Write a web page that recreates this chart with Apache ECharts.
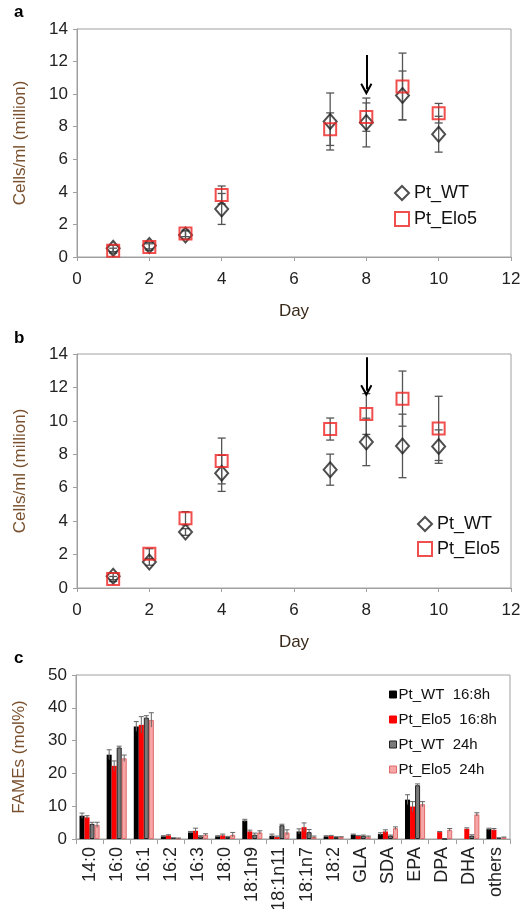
<!DOCTYPE html>
<html>
<head>
<meta charset="utf-8">
<script src="https://cdn.jsdelivr.net/npm/echarts@6/dist/echarts.min.js"></script>
<style>
html, body { margin: 0; padding: 0; background: #fff; }
#main { width: 522px; height: 909px; }
</style>
</head>
<body>
<div id="main"></div>
<script>
// growth curves (panels a and b)
var days = [1, 2, 3, 4, 7, 8, 9, 10];
var aWT = [0.53, 0.70, 1.35, 2.95, 8.32, 8.26, 9.92, 7.54];
var aWTerr = [0.2, 0.2, 0.25, 0.95, 1.75, 1.5, 1.5, 1.1];
var aElo = [0.39, 0.61, 1.45, 3.81, 7.85, 8.59, 10.47, 8.83];
var aEloErr = [0.15, 0.2, 0.2, 0.55, 1.0, 0.87, 2.05, 0.6];
var bWT = [0.70, 1.56, 3.35, 6.86, 7.08, 8.74, 8.50, 8.46];
var bWTerr = [0.2, 0.2, 0.2, 1.08, 0.93, 1.42, 1.9, 1.0];
var bElo = [0.54, 2.05, 4.17, 7.60, 9.51, 10.41, 11.33, 9.55];
var bEloErr = [0.15, 0.3, 0.4, 1.37, 0.66, 1.22, 1.65, 1.92];

// fatty acid profile (panel c)
var fames = ['14:0', '16:0', '16:1', '16:2', '16:3', '18:0', '18:1n9', '18:1n11', '18:1n7', '18:2', 'GLA', 'SDA', 'EPA', 'DPA', 'DHA', 'others'];
var wt16 = [7.1, 25.7, 34.3, 0.8, 2.0, 0.8, 5.6, 1.0, 2.3, 0.8, 1.3, 1.5, 12.0, 0, 0, 3.0];
var wt16err = [0.8, 1.5, 1.5, 0.2, 0.3, 0.2, 0.4, 0.5, 0.8, 0.2, 0.2, 0.4, 1.5, 0, 0, 0.3];
var elo16 = [6.6, 22.3, 34.8, 1.1, 2.5, 1.1, 2.3, 0.6, 3.6, 0.9, 0.9, 2.3, 9.9, 2.1, 3.1, 2.8];
var elo16err = [0.5, 1.5, 2.5, 0.2, 0.8, 0.4, 0.4, 0.3, 1.3, 0.2, 0.2, 0.5, 1.5, 0.2, 0.3, 0.4];
var wt24 = [4.6, 27.9, 37.0, 0.3, 0.8, 0.6, 1.3, 4.2, 2.1, 0.6, 1.0, 1.0, 16.4, 0, 1.0, 0.3];
var wt24err = [0.5, 0.4, 0.6, 0.1, 0.2, 0.2, 0.5, 0.3, 0.8, 0.1, 0.2, 0.2, 0.4, 0, 0.3, 0.1];
var elo24 = [4.3, 24.6, 36.3, 0.2, 1.3, 1.3, 2.0, 2.0, 0.6, 0.6, 0.7, 3.3, 10.6, 2.8, 7.5, 0.5];
var elo24err = [0.8, 1.0, 2.2, 0.1, 0.3, 0.7, 0.5, 0.8, 0.3, 0.1, 0.2, 0.4, 0.8, 0.4, 0.5, 0.1];

var FONT = 'Liberation Sans';
var NAMECOL = '#7a5230';
var AXCOL = '#a0a0a0';

function pts(xs, ys) {
    return xs.map(function (x, i) { return [x, ys[i]]; });
}
function errs(xs, ys, es) {
    return xs.map(function (x, i) { return [x, ys[i] - es[i], ys[i] + es[i]]; });
}

function renderErr(params, api) {
    var x = api.value(0);
    var lo = api.coord([x, api.value(1)]);
    var hi = api.coord([x, api.value(2)]);
    var w = 4;
    var st = { stroke: '#555', lineWidth: 1.3 };
    return {
        type: 'group',
        children: [
            { type: 'line', shape: { x1: lo[0], y1: lo[1], x2: hi[0], y2: hi[1] }, style: st },
            { type: 'line', shape: { x1: lo[0] - w, y1: lo[1], x2: lo[0] + w, y2: lo[1] }, style: st },
            { type: 'line', shape: { x1: hi[0] - w, y1: hi[1], x2: hi[0] + w, y2: hi[1] }, style: st }
        ]
    };
}

// error bars for the grouped bars, idx = position of the bar in its group
function barErr(idx) {
    return function (params, api) {
        var c = api.value(0);
        var v = api.value(1), e = api.value(2);
        if (e <= 0) return null;
        var band = api.size([1, 0])[0];
        var bw = band * 0.74 / 4;
        var base = api.coord([c, v]);
        var x = base[0] + (idx - 1.5) * bw;
        var top = api.coord([c, v + e])[1];
        var bot = api.coord([c, v - e])[1];
        var st = { stroke: '#666', lineWidth: 1 };
        return {
            type: 'group',
            children: [
                { type: 'line', shape: { x1: x, y1: bot, x2: x, y2: top }, style: st },
                { type: 'line', shape: { x1: x - 2.5, y1: top, x2: x + 2.5, y2: top }, style: st }
            ]
        };
    };
}
function barErrData(vals, es) {
    return vals.map(function (v, i) { return [i, v, es[i]]; });
}

var arrowSym = 'path://M0,10 L5,0 L10,10 L8.6,10.8 L5,4 L1.4,10.8 Z';

function dayGrid(top, height) {
    return { left: 77, right: 11, top: top, height: height, outerBoundsMode: 'none', show: true, borderColor: AXCOL, borderWidth: 1, backgroundColor: 'transparent' };
}
function dayX(gi) {
    return {
        type: 'value', gridIndex: gi, min: 0, max: 12, interval: 2,
        name: 'Day', nameLocation: 'middle', nameGap: 46,
        nameTextStyle: { fontFamily: FONT, fontSize: 17, color: '#3a2a1a' },
        axisLine: { lineStyle: { color: AXCOL } },
        axisTick: { show: true, length: 4, lineStyle: { color: AXCOL } },
        axisLabel: { fontFamily: FONT, fontSize: 17, color: '#222', margin: 14 },
        splitLine: { show: false }
    };
}
function dayY(gi) {
    return {
        type: 'value', gridIndex: gi, min: 0, max: 14, interval: 2,
        name: 'Cells/ml (million)', nameLocation: 'middle', nameGap: 48,
        nameTextStyle: { fontFamily: FONT, fontSize: 17, color: NAMECOL },
        axisLine: { show: true, lineStyle: { color: AXCOL } },
        axisTick: { show: true, length: 4, lineStyle: { color: AXCOL } },
        axisLabel: { fontFamily: FONT, fontSize: 17, color: '#222', margin: 9 },
        splitLine: { show: false }
    };
}

function growthSeries(gi, wt, wtE, elo, eloE, arrowTop, arrowBot) {
    return [
        { type: 'custom', xAxisIndex: gi, yAxisIndex: gi, renderItem: renderErr, data: errs(days, wt, wtE), encode: { x: 0, y: [1, 2] }, z: 1, silent: true },
        { type: 'custom', xAxisIndex: gi, yAxisIndex: gi, renderItem: renderErr, data: errs(days, elo, eloE), encode: { x: 0, y: [1, 2] }, z: 1, silent: true },
        {
            name: 'Pt_WT', type: 'scatter', xAxisIndex: gi, yAxisIndex: gi,
            symbol: 'diamond', symbolSize: [13, 15], z: 3,
            itemStyle: { color: 'transparent', borderColor: '#222', borderWidth: 2 },
            data: pts(days, wt),
            markLine: {
                silent: true, symbol: ['none', arrowSym], symbolSize: [12, 12],
                lineStyle: { color: '#000', width: 2, type: 'solid' },
                label: { show: false },
                data: [[{ coord: [8, arrowTop] }, { coord: [8, arrowBot] }]]
            }
        },
        {
            name: 'Pt_Elo5', type: 'scatter', xAxisIndex: gi, yAxisIndex: gi,
            symbol: 'rect', symbolSize: 12, z: 4,
            itemStyle: { color: 'transparent', borderColor: '#ee2222', borderWidth: 2 },
            data: pts(days, elo)
        }
    ];
}

var chart = echarts.init(document.getElementById('main'));

var barColors = ['#000000', '#ff0000', '#7a7a7a', '#f6a6a6'];
var barBorders = ['#000000', '#ff0000', '#222222', '#e06a6a'];
var barNames = ['Pt_WT  16:8h', 'Pt_Elo5  16:8h', 'Pt_WT  24h', 'Pt_Elo5  24h'];
var barVals = [wt16, elo16, wt24, elo24];
var barErrs = [wt16err, elo16err, wt24err, elo24err];

var series = [];
series = series.concat(growthSeries(0, aWT, aWTerr, aElo, aEloErr, 12.4, 10.3));
series = series.concat(growthSeries(1, bWT, bWTerr, bElo, bEloErr, 13.8, 11.8));

barNames.forEach(function (n, i) {
    series.push({
        name: n, type: 'bar', xAxisIndex: 2, yAxisIndex: 2,
        barGap: '0%', barCategoryGap: '26%',
        itemStyle: { color: barColors[i], borderColor: barBorders[i], borderWidth: i >= 2 ? 1 : 0 },
        data: barVals[i]
    });
});
barNames.forEach(function (n, i) {
    series.push({
        type: 'custom', xAxisIndex: 2, yAxisIndex: 2, silent: true, z: 5,
        renderItem: barErr(i), data: barErrData(barVals[i], barErrs[i]),
        encode: { x: 0, y: 1 }
    });
});

var legendText = { fontFamily: FONT, fontSize: 18, color: '#111' };

var option = {
    animation: false,
    backgroundColor: '#fff',
    graphic: [
        { type: 'text', left: 14, top: 4, style: { text: 'a', font: 'bold 17px Liberation Sans', fill: '#000' } },
        { type: 'text', left: 14, top: 330, style: { text: 'b', font: 'bold 17px Liberation Sans', fill: '#000' } },
        { type: 'text', left: 14, top: 650, style: { text: 'c', font: 'bold 17px Liberation Sans', fill: '#000' } }
    ],
    legend: [
        {
            data: ['Pt_WT', 'Pt_Elo5'], orient: 'vertical', left: 389, top: 179,
            itemWidth: 14, itemHeight: 14, itemGap: 8, textStyle: legendText
        },
        {
            data: ['Pt_WT', 'Pt_Elo5'], orient: 'vertical', left: 412, top: 510,
            itemWidth: 14, itemHeight: 14, itemGap: 7, textStyle: legendText
        },
        {
            data: barNames, orient: 'vertical', left: 384, top: 682,
            icon: 'rect', itemWidth: 7, itemHeight: 7, itemGap: 10, itemStyle: { borderWidth: 1 },
            textStyle: { fontFamily: FONT, fontSize: 15, color: '#111', padding: [0, 0, 0, -3] }
        }
    ],
    grid: [
        dayGrid(29, 228),
        dayGrid(354, 234),
        { left: 76, right: 12, top: 675, height: 164, outerBoundsMode: 'none', show: true, borderColor: AXCOL, borderWidth: 1, backgroundColor: 'transparent' }
    ],
    xAxis: [
        dayX(0),
        dayX(1),
        {
            type: 'category', gridIndex: 2, data: fames,
            axisLine: { lineStyle: { color: AXCOL } },
            axisTick: { show: true, length: 5, alignWithLabel: false, lineStyle: { color: AXCOL } },
            axisLabel: { fontFamily: FONT, fontSize: 18, color: '#222', rotate: 90, interval: 0, margin: 8 }
        }
    ],
    yAxis: [
        dayY(0),
        dayY(1),
        {
            type: 'value', gridIndex: 2, min: 0, max: 50, interval: 10,
            name: 'FAMEs (mol%)', nameLocation: 'middle', nameGap: 48,
            nameTextStyle: { fontFamily: FONT, fontSize: 17, color: NAMECOL },
            axisLine: { show: true, lineStyle: { color: AXCOL } },
            axisTick: { show: true, length: 4, lineStyle: { color: AXCOL } },
            axisLabel: { fontFamily: FONT, fontSize: 17, color: '#222', margin: 9 },
            splitLine: { show: false }
        }
    ],
    series: series
};

chart.setOption(option);
</script>
</body>
</html>
